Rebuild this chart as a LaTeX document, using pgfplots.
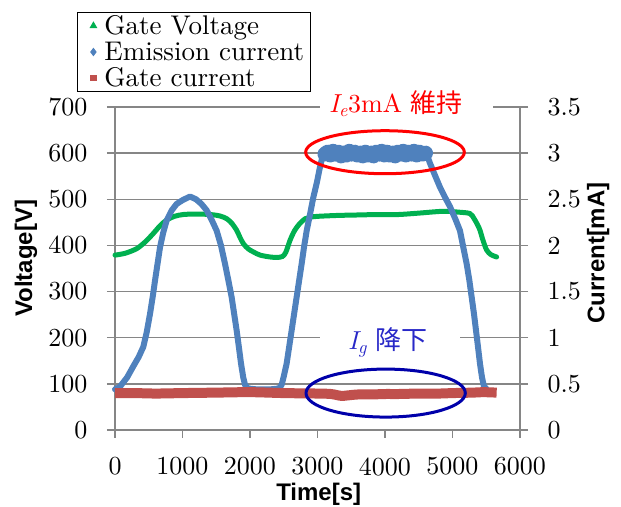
\documentclass[border=0pt]{standalone}
\usepackage{fontspec}
\setmainfont{lmroman10}[Extension=.otf, UprightFont=*-regular, ItalicFont=*-italic, BoldFont=*-bold, BoldItalicFont=*-bolditalic]
\usepackage{pgfplots}
\pgfplotsset{compat=1.18}
\newfontfamily\arial{Liberation Sans}
\newfontfamily\cjk{Noto Sans CJK JP}
\definecolor{gv}{RGB}{0,176,80}
\definecolor{ec}{RGB}{79,129,189}
\definecolor{gc}{RGB}{192,80,77}
\definecolor{gridc}{RGB}{134,134,134}
\definecolor{ellred}{RGB}{255,0,0}
\definecolor{ellblue}{RGB}{0,0,170}
\definecolor{txtblue}{RGB}{40,40,200}
\begin{document}
\begin{tikzpicture}
\useasboundingbox (0,0) rectangle (621pt,506pt);
\pgfplotsset{
  common/.style={
    width=405pt, height=323pt, scale only axis,
    at={(115pt,76pt)}, anchor=south west,
    xmin=0, xmax=6000, clip=false,
    axis line style={gridc, line width=1.3pt},
    tick style={gridc, line width=1.3pt},
    tick align=outside, major tick length=8pt,
    ticklabel style={font=\fontsize{26}{30}\selectfont},
    /pgf/number format/assume math mode=true,
    /pgf/number format/1000 sep={},
    label style={font=\arial\bfseries\fontsize{24}{27}\selectfont},
  },
  mklegend/.style={legend image code/.code={\path[draw=none,fill=none] (-11pt,0pt) -- (4pt,0pt); \draw[##1] plot[only marks] coordinates {(0pt,0pt)};}},
}
\begin{axis}[common,
  ymin=0, ymax=700, ytick={0,100,200,300,400,500,600,700},
  xtick={0,1000,2000,3000,4000,5000,6000},
  axis x line*=bottom, axis y line*=left,
  xticklabel style={yshift=-16pt},
  yticklabel style={xshift=-16pt},
  ymajorgrids, grid style={gridc, line width=1.3pt},
  xlabel={Time[s]}, ylabel={Voltage[V]},
  xlabel style={at={(rel axis cs:0.503,-0.198)}, anchor=center},
  ylabel style={at={(rel axis cs:-0.22,0.532)}, anchor=center},
]
\addplot[gv, line width=5pt, smooth, line cap=round] coordinates {
(0,379) (150,383) (321,393) (450,408) (568,426) (670,443) (765,455) (880,463)
(1012,467) (1200,468) (1407,467) (1550,464) (1654,458) (1730,448) (1802,433)
(1850,418) (1901,404) (1970,393) (2049,386) (2150,379) (2296,375) (2400,374)
(2480,376) (2530,385) (2593,411) (2660,432) (2741,448) (2820,458) (2889,461)
(3000,463) (3300,465) (3600,466) (3900,467) (4200,467) (4500,470) (4865,474)
(5100,472) (5259,469) (5320,458) (5370,445) (5407,433) (5450,412) (5506,390)
(5570,380) (5654,375)};
\end{axis}
\begin{axis}[common,
  ymin=0, ymax=3.5, ytick={0,0.5,1,1.5,2,2.5,3,3.5},
  yticklabels={0,0.5,1,1.5,2,2.5,3,3.5},
  axis y line*=right, axis x line=none,
  ylabel={Current[mA]},
  ylabel style={at={(rel axis cs:1.193,0.548)}, anchor=center},
  yticklabel style={anchor=west, xshift=16pt},
  legend style={at={(-0.094,1.294)}, anchor=north west, draw=black, line width=1pt,
    font=\fontsize{27}{29}\selectfont, row sep=4pt, inner xsep=5pt, inner ysep=2pt,
    nodes={inner sep=1pt},
    /tikz/every odd column/.append style={column sep=6pt}},
  legend cell align=left,
]
\addlegendimage{mklegend, mark=triangle*, mark size=3.5pt, color=gv}
\addlegendentry{Gate Voltage}
\addlegendimage{mklegend, mark=diamond*, mark size=3.5pt, color=ec}
\addlegendentry{Emission current}
\addlegendimage{mklegend, mark=square*, mark size=2.7pt, color=gc}
\addlegendentry{Gate current}
\addplot[ec, line width=6pt, line join=round, line cap=round, forget plot] coordinates {
(0,0.44) (74,0.47) (180,0.57) (271,0.69) (350,0.79) (419,0.90) (470,1.06)
(519,1.26) (560,1.45) (593,1.62) (630,1.80) (667,1.98) (715,2.14) (765,2.27)
(840,2.38) (914,2.45) (1000,2.49) (1111,2.53) (1200,2.50) (1280,2.45)
(1358,2.38) (1430,2.28) (1506,2.16) (1570,2.00) (1630,1.80) (1680,1.62)
(1728,1.44) (1765,1.26) (1802,1.08) (1835,0.90) (1867,0.72) (1900,0.57)
(1926,0.49) (1970,0.45) (2100,0.44) (2300,0.44) (2430,0.45) (2469,0.49)
(2500,0.58) (2543,0.72) (2580,0.90) (2617,1.08) (2654,1.26) (2691,1.44)
(2728,1.62) (2765,1.80) (2800,1.98) (2840,2.16) (2890,2.34) (2938,2.52)
(2990,2.68) (3037,2.85) (3070,2.95) (3090,2.99) (4617,2.99) (4667,2.89)
(4740,2.76) (4815,2.63) (4890,2.52) (4963,2.42) (5040,2.29) (5111,2.16)
(5160,1.98) (5210,1.80) (5250,1.62) (5284,1.44) (5318,1.26) (5348,1.08)
(5378,0.90) (5407,0.72) (5437,0.57) (5467,0.47) (5500,0.45)};
\addplot[ec, line width=15pt, line join=round, line cap=round, forget plot] coordinates {
(3110,2.99) (3150,3.01) (3190,2.98) (3230,3.02) (3270,2.99) (3310,3.01)
(3350,2.97) (3390,3.00) (3430,2.98) (3470,3.02) (3510,2.99) (3550,3.01)
(3590,2.98) (3630,3.00) (3670,2.97) (3710,3.01) (3750,2.98) (3790,3.00)
(3830,2.97) (3870,3.01) (3910,2.99) (3950,3.02) (3990,2.98) (4030,3.01)
(4070,2.98) (4110,3.00) (4150,2.97) (4190,3.01) (4230,2.99) (4270,3.02)
(4310,2.98) (4350,3.01) (4390,2.99) (4430,3.02) (4470,2.98) (4510,3.01)
(4550,2.99) (4600,3.00)};
\addplot[gc, line width=10pt, smooth, forget plot] coordinates {
(0,0.40) (300,0.40) (600,0.395) (1000,0.40) (1500,0.405) (2000,0.41)
(2500,0.40) (3000,0.395) (3200,0.39) (3350,0.37) (3450,0.375) (3600,0.385)
(3800,0.385) (4000,0.39) (4200,0.39) (4500,0.395) (4800,0.395) (5000,0.40)
(5300,0.405) (5450,0.41) (5654,0.405)};
\fill[white] (axis cs:3037,3.38) rectangle (axis cs:5600,3.67);
\fill[white] (axis cs:3037,0.85) rectangle (axis cs:5111,1.10);
\draw[ellred, line width=3pt] (axis cs:4000,3.01) ellipse [x radius=1175, y radius=0.233];
\draw[ellblue, line width=3pt] (axis cs:4010,0.40) ellipse [x radius=1180, y radius=0.26];
\node[ellred, font=\fontsize{26}{30}\selectfont, inner sep=0pt] at (axis cs:4163,3.54)
  {{\itshape I}\textsubscript{\itshape e}3mA {\cjk 維持}};
\node[txtblue, font=\fontsize{26}{30}\selectfont, inner sep=0pt] at (axis cs:4044,0.95)
  {{\itshape I}\textsubscript{\itshape g} {\cjk 降下}};
\end{axis}
\end{tikzpicture}
\end{document}
